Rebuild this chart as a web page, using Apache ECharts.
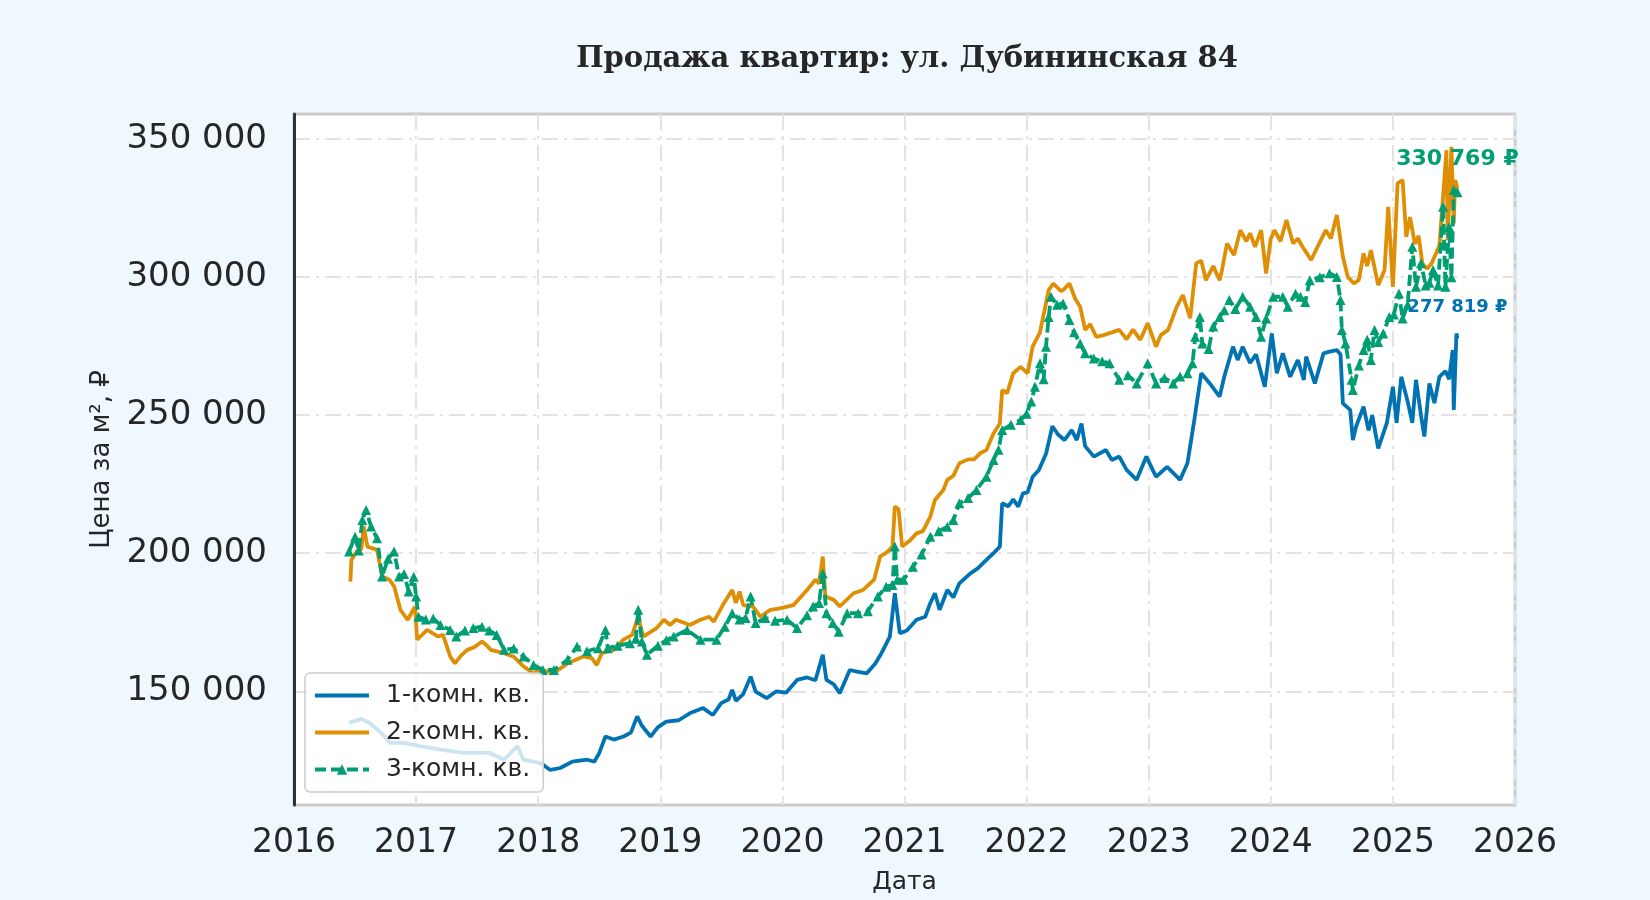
<!DOCTYPE html>
<html>
<head>
<meta charset="utf-8">
<script src="https://cdn.jsdelivr.net/npm/echarts@6/dist/echarts.min.js"></script>
<style>
html,body{margin:0;padding:0;background:#f0f8ff;}
#chart{width:1650px;height:900px;}
</style>
</head>
<body>
<div id="chart"></div>
<script>
const titleText = 'Продажа квартир: ул. Дубининская 84';
const seriesNames = ['1-комн. кв.', '2-комн. кв.', '3-комн. кв.'];
const xTicks = [2016, 2017, 2018, 2019, 2020, 2021, 2022, 2023, 2024, 2025, 2026];
const yTicks = [150000, 200000, 250000, 300000, 350000];

const dates1 = ['2016-06-14','2016-07-21','2016-08-15','2016-09-17','2016-10-16','2016-11-26','2017-01-23','2017-03-15','2017-05-23','2017-08-08','2017-09-21','2017-10-31','2017-11-18','2018-01-08','2018-02-06','2018-03-08','2018-04-13','2018-05-27','2018-06-18','2018-07-02','2018-07-21','2018-08-15','2018-09-13','2018-10-05','2018-10-24','2018-11-07','2018-12-03','2018-12-25','2019-01-19','2019-02-25','2019-03-30','2019-05-09','2019-06-07','2019-07-02','2019-07-24','2019-08-04','2019-08-15','2019-09-06','2019-09-28','2019-10-13','2019-11-15','2019-12-14','2020-01-12','2020-02-14','2020-03-15','2020-04-09','2020-05-01','2020-05-12','2020-06-03','2020-06-21','2020-07-21','2020-08-15','2020-09-10','2020-10-05','2020-10-24','2020-11-18','2020-12-03','2020-12-18','2021-01-08','2021-02-06','2021-03-04','2021-03-19','2021-04-02','2021-04-16','2021-05-09','2021-05-27','2021-06-14','2021-07-17','2021-08-08','2021-09-03','2021-09-24','2021-10-13','2021-10-20','2021-11-07','2021-11-22','2021-12-07','2021-12-21','2022-01-04','2022-01-19','2022-02-06','2022-02-28','2022-03-19','2022-04-05','2022-04-24','2022-05-16','2022-05-31','2022-06-14','2022-06-25','2022-07-21','2022-08-26','2022-09-13','2022-10-05','2022-10-27','2022-11-26','2022-12-25','2023-01-23','2023-02-25','2023-04-05','2023-04-27','2023-05-16','2023-06-07','2023-07-02','2023-08-01','2023-08-15','2023-09-10','2023-09-24','2023-10-09','2023-10-31','2023-11-18','2023-12-14','2024-01-04','2024-01-19','2024-02-06','2024-02-28','2024-03-22','2024-04-09','2024-04-16','2024-05-12','2024-06-07','2024-06-25','2024-07-17','2024-07-28','2024-08-04','2024-08-26','2024-09-03','2024-09-13','2024-10-05','2024-10-20','2024-10-31','2024-11-18','2024-12-14','2025-01-01','2025-01-12','2025-01-26','2025-02-14','2025-02-28','2025-03-11','2025-03-26','2025-04-05','2025-04-20','2025-05-05','2025-05-20','2025-06-07','2025-06-18','2025-06-29','2025-07-02','2025-07-10','2025-07-13'];
const price1 = [138600,140000,138500,135000,131300,131300,129900,128900,127700,127700,125200,130100,125200,124000,121500,122200,124500,125200,124500,127500,133600,132500,133600,135000,140900,137500,133600,137000,139000,139500,142000,143900,141400,145700,147000,150500,146500,149000,155300,149900,147500,150000,149500,154100,155000,154000,163200,154100,152500,149300,157700,157000,156500,160000,163800,169800,185500,171000,172000,175900,177000,181900,185500,179500,186700,184000,189100,192700,194500,197600,200000,202400,218100,217000,219500,216900,221700,222000,227700,230000,236000,246000,243000,241000,244600,241000,247000,238800,235000,237400,233800,235000,230200,226600,235000,227700,231300,226600,232700,247200,265200,261600,256700,264000,274800,270000,274800,268900,272000,260300,279600,265200,272400,263900,270000,262800,271200,261500,272400,273000,273600,272000,254300,251900,241000,246000,253100,244500,250000,238000,247200,260300,247200,263900,255000,247200,262800,250000,242300,261500,254400,263900,266000,263000,273600,251900,279600,277819];

const dates2 = ['2016-06-18','2016-06-21','2016-07-10','2016-07-21','2016-07-28','2016-08-08','2016-09-06','2016-09-21','2016-10-13','2016-10-27','2016-11-15','2016-12-07','2016-12-29','2017-01-04','2017-02-03','2017-03-08','2017-03-22','2017-04-13','2017-04-27','2017-05-16','2017-06-03','2017-06-25','2017-07-17','2017-08-01','2017-08-12','2017-09-21','2017-10-20','2017-11-18','2017-12-18','2018-01-08','2018-02-17','2018-03-30','2018-05-16','2018-06-10','2018-06-25','2018-07-10','2018-08-15','2018-09-13','2018-10-09','2018-10-27','2018-11-11','2018-12-21','2019-01-12','2019-01-30','2019-02-17','2019-03-30','2019-05-01','2019-05-27','2019-06-10','2019-07-10','2019-08-04','2019-08-15','2019-08-26','2019-09-06','2019-10-05','2019-10-27','2019-11-26','2019-12-25','2020-02-03','2020-03-15','2020-04-09','2020-04-20','2020-05-01','2020-05-09','2020-06-03','2020-06-21','2020-08-01','2020-08-30','2020-10-02','2020-10-20','2020-11-11','2020-11-26','2020-12-03','2020-12-14','2020-12-25','2021-01-19','2021-02-06','2021-02-25','2021-03-19','2021-04-02','2021-04-27','2021-05-09','2021-05-27','2021-06-14','2021-07-10','2021-07-28','2021-08-15','2021-09-03','2021-09-24','2021-10-13','2021-10-20','2021-11-04','2021-11-22','2021-12-14','2022-01-04','2022-01-19','2022-02-10','2022-03-08','2022-03-22','2022-04-13','2022-04-20','2022-05-09','2022-05-27','2022-06-10','2022-06-25','2022-07-10','2022-07-28','2022-08-19','2022-09-13','2022-10-05','2022-10-27','2022-11-15','2022-12-07','2022-12-29','2023-01-23','2023-02-06','2023-02-28','2023-03-26','2023-04-13','2023-05-05','2023-05-23','2023-06-07','2023-06-21','2023-07-13','2023-08-01','2023-08-08','2023-08-23','2023-09-13','2023-10-02','2023-10-20','2023-10-31','2023-11-15','2023-12-03','2023-12-18','2024-01-01','2024-01-12','2024-01-30','2024-02-17','2024-03-08','2024-03-22','2024-04-05','2024-05-01','2024-05-20','2024-06-14','2024-06-29','2024-07-17','2024-08-04','2024-08-19','2024-09-06','2024-09-21','2024-10-05','2024-10-16','2024-10-27','2024-11-18','2024-12-07','2024-12-18','2025-01-01','2025-01-15','2025-01-30','2025-02-10','2025-02-21','2025-03-08','2025-03-19','2025-03-30','2025-04-13','2025-04-27','2025-05-20','2025-05-31','2025-06-10','2025-06-14','2025-06-25','2025-07-02','2025-07-06','2025-07-13'];
const price2 = [189700,197600,201200,201500,209700,202400,201200,191600,190400,188000,179500,175900,180700,168700,172200,169800,170500,162600,160100,163000,165000,166000,168000,166500,165000,163800,162500,159000,156500,157800,156600,160100,162600,162000,159500,163800,165000,168700,170400,177000,169800,172900,175900,174000,175900,174000,175900,177000,175200,181900,186700,182000,186100,181200,180700,177000,179500,180000,181200,186700,190400,189000,198800,184300,183100,180700,185500,186700,190400,198800,200500,202400,216900,216000,202400,204800,207200,208000,213200,219300,222900,226600,228000,232600,234000,234000,236200,237400,243400,247000,259100,258000,265200,267500,265200,274800,280000,295300,297700,295000,295300,297700,292000,289300,280900,283000,278400,279000,280000,280900,277500,281000,277300,283300,274800,279000,280900,289300,293500,285100,305000,306000,298900,304000,298900,302500,312200,308000,317000,313000,315900,311000,317000,301300,314000,317000,313000,320700,312200,314000,311000,306200,311000,317000,314000,322500,307400,300000,297700,299000,308600,304000,309800,297100,302600,325500,296500,334000,335200,314600,321800,312000,315000,305000,303000,305000,311500,329000,346000,313400,347200,319500,335200,332000];

const dates3 = ['2016-06-14','2016-07-02','2016-07-13','2016-07-24','2016-08-04','2016-08-19','2016-09-06','2016-09-21','2016-10-09','2016-10-27','2016-11-11','2016-11-26','2016-12-10','2016-12-25','2017-01-01','2017-01-08','2017-01-30','2017-02-21','2017-03-15','2017-04-13','2017-05-01','2017-05-27','2017-06-21','2017-07-17','2017-08-08','2017-08-30','2017-09-21','2017-10-20','2017-11-18','2017-12-18','2018-01-15','2018-02-17','2018-03-30','2018-04-27','2018-05-27','2018-06-29','2018-07-21','2018-07-28','2018-08-26','2018-10-02','2018-10-20','2018-10-27','2018-11-07','2018-11-22','2018-12-25','2019-01-19','2019-02-10','2019-03-22','2019-05-01','2019-06-18','2019-07-13','2019-08-04','2019-08-26','2019-09-13','2019-09-28','2019-10-13','2019-11-11','2019-12-10','2020-01-15','2020-02-14','2020-03-15','2020-04-02','2020-04-20','2020-05-01','2020-05-12','2020-05-31','2020-06-18','2020-07-13','2020-08-15','2020-09-13','2020-10-13','2020-11-07','2020-11-26','2020-12-03','2020-12-10','2020-12-29','2021-01-26','2021-02-21','2021-03-19','2021-04-13','2021-05-09','2021-05-27','2021-06-14','2021-07-10','2021-08-04','2021-09-03','2021-09-24','2021-10-09','2021-10-20','2021-11-15','2021-12-14','2022-01-01','2022-01-15','2022-01-26','2022-02-10','2022-02-21','2022-02-28','2022-03-08','2022-03-15','2022-04-02','2022-04-20','2022-05-09','2022-05-23','2022-06-10','2022-06-25','2022-07-21','2022-08-15','2022-09-06','2022-10-05','2022-10-31','2022-11-26','2022-12-29','2023-01-23','2023-02-17','2023-03-15','2023-04-05','2023-04-27','2023-05-12','2023-05-20','2023-06-03','2023-06-10','2023-06-29','2023-07-13','2023-08-01','2023-08-15','2023-08-30','2023-09-17','2023-10-09','2023-10-31','2023-11-18','2023-12-03','2023-12-18','2024-01-08','2024-02-06','2024-02-21','2024-03-15','2024-03-30','2024-04-13','2024-04-27','2024-05-27','2024-06-25','2024-07-17','2024-07-28','2024-08-01','2024-08-12','2024-08-30','2024-09-03','2024-09-21','2024-10-05','2024-10-16','2024-10-27','2024-11-07','2024-11-18','2024-12-03','2024-12-21','2025-01-04','2025-01-19','2025-01-30','2025-02-14','2025-02-28','2025-03-11','2025-03-26','2025-04-09','2025-04-20','2025-05-01','2025-05-16','2025-05-31','2025-06-07','2025-06-18','2025-06-25','2025-07-02','2025-07-13'];
const price3 = [200600,206000,201000,212000,215700,209700,205400,191600,198000,200600,191600,192500,186100,191500,184300,177000,176000,176400,174000,172200,169800,172000,172900,173400,172000,170400,165000,165500,162600,159500,157700,157700,161400,166200,164500,165600,172200,165600,166500,167400,169000,179500,168000,163200,166500,168500,169800,172200,168700,168700,173400,178300,176000,176500,184300,174700,176500,175500,175900,172900,177500,180700,182000,192700,178300,174700,171600,178300,178300,179000,184300,187900,188500,202400,190400,190400,195100,199500,206000,208000,209600,212000,218100,220000,222900,227700,233800,237500,244600,246500,248300,250500,255000,260300,268800,263000,274800,285600,292900,290000,290500,284500,280000,276000,272400,270500,269500,268800,262800,264500,261500,268800,261500,263500,261500,264000,265200,268800,278400,285600,276000,274000,282100,285600,288000,291700,288500,292900,289300,285600,278400,285000,292900,292900,289300,294000,292900,291000,298900,300000,301400,300100,291700,280900,276000,262800,259100,268000,273600,277300,270000,280900,276500,279600,285600,286500,294100,285000,290000,311000,296500,305000,297000,298000,302600,297000,325500,296500,318200,300000,331600,330769];

const colors = ['#0173b2', '#de8f05', '#029e73'];

function toYear(s) {
  const p = s.split('-').map(Number);
  const t0 = Date.UTC(p[0], 0, 1), t1 = Date.UTC(p[0] + 1, 0, 1);
  return p[0] + (Date.UTC(p[0], p[1] - 1, p[2]) - t0) / (t1 - t0);
}
function fmt(v) { return String(Math.round(v)).replace(/\B(?=(\d{3})+(?!\d))/g, ' '); }
function pairs(d, v) { return d.map((s, i) => [toYear(s), v[i]]); }

const data1 = pairs(dates1, price1);
const data2 = pairs(dates2, price2);
const data3 = pairs(dates3, price3);

function endMark(data, color, size) {
  const last = data[data.length - 1];
  return {
    symbol: 'circle', symbolSize: 0, silent: true, animation: false,
    data: [{ coord: last, value: last[1] }],
    label: {
      show: true, position: 'top', distance: 22,
      formatter: p => fmt(p.value) + ' ₽',
      color: color, fontFamily: 'DejaVu Sans', fontWeight: 'bold', fontSize: size
    }
  };
}

const lineIcon = 'path://M0,0H54V4H0Z';
const gridLine = { show: true, lineStyle: { color: '#e3e3e3', width: 2, type: [16, 6, 3, 6] } };

const chart = echarts.init(document.getElementById('chart'), null, { renderer: 'canvas' });
chart.setOption({
  animation: false,
  backgroundColor: '#f0f8ff',
  title: {
    text: titleText, left: 902, top: 40, textAlign: 'center',
    textStyle: { fontFamily: 'DejaVu Serif', fontWeight: 'bold', fontSize: 29, color: '#262626' }
  },
  grid: {
    left: 294, right: 135, top: 114, bottom: 95,
    show: true, backgroundColor: '#ffffff', borderColor: '#cccccc', borderWidth: 3
  },
  legend: {
    orient: 'vertical', left: 305, top: 673,
    data: [
      { name: seriesNames[0], icon: lineIcon },
      { name: seriesNames[1], icon: lineIcon },
      { name: seriesNames[2] }
    ],
    backgroundColor: 'rgba(255,255,255,0.8)',
    borderColor: '#cccccc', borderWidth: 1.5, borderRadius: 5,
    padding: [10, 13, 10, 8], itemGap: 12,
    itemWidth: 54, itemHeight: 13,
    lineStyle: { width: 4, type: [11, 5] },
    textStyle: { fontFamily: 'DejaVu Sans', fontSize: 25, color: '#262626', padding: [0, 0, 0, 12] }
  },
  xAxis: {
    type: 'value', min: xTicks[0], max: xTicks[xTicks.length - 1], interval: 1,
    name: 'Дата', nameLocation: 'middle', nameGap: 65,
    nameTextStyle: { fontFamily: 'DejaVu Sans', fontSize: 25, color: '#262626' },
    axisLine: { show: false },
    axisTick: { show: false },
    axisLabel: { fontFamily: 'DejaVu Sans', fontSize: 33, color: '#262626', margin: 22, formatter: v => String(Math.round(v)) },
    splitLine: gridLine
  },
  yAxis: {
    type: 'value', min: 108800, max: 359100,
    name: 'Цена за м², ₽', nameLocation: 'middle', nameGap: 176,
    nameTextStyle: { fontFamily: 'DejaVu Sans', fontSize: 26, color: '#262626' },
    axisLine: { show: true, lineStyle: { color: '#333333', width: 3 } },
    axisTick: { show: false, customValues: yTicks },
    axisLabel: { fontFamily: 'DejaVu Sans', fontSize: 34, color: '#262626', margin: 27, customValues: yTicks, formatter: v => fmt(v) },
    splitLine: gridLine
  },
  series: [
    {
      name: seriesNames[0], type: 'line', data: data1, symbol: 'none', showSymbol: false,
      lineStyle: { color: colors[0], width: 3.8 }, itemStyle: { color: colors[0] },
      markPoint: endMark(data1, colors[0], 18)
    },
    {
      name: seriesNames[1], type: 'line', data: data2, symbol: 'none', showSymbol: false,
      lineStyle: { color: colors[1], width: 3.8 }, itemStyle: { color: colors[1] }
    },
    {
      name: seriesNames[2], type: 'line', data: data3, symbol: 'triangle', symbolSize: 10, showSymbol: true,
      lineStyle: { color: colors[2], width: 3.8, type: [11, 5] }, itemStyle: { color: colors[2] },
      markPoint: endMark(data3, colors[2], 22)
    }
  ]
});
</script>
</body>
</html>
